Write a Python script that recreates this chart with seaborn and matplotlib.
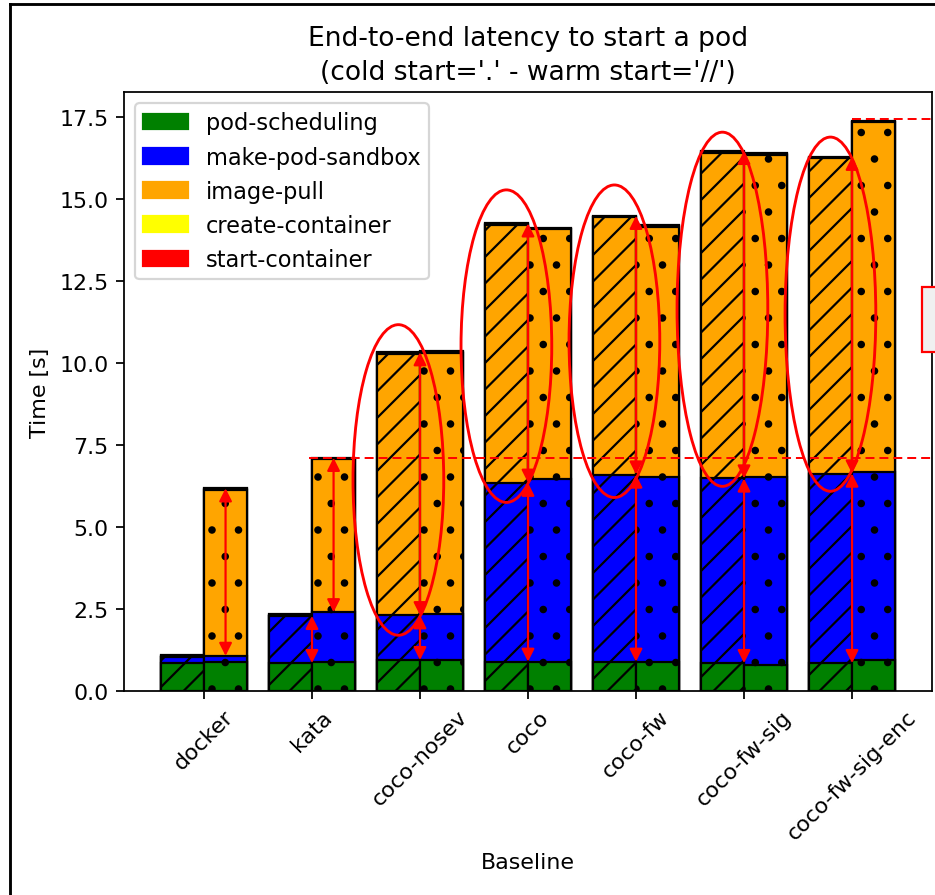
import numpy as np
import pandas as pd
import matplotlib.pyplot as plt
import seaborn as sns
from matplotlib.patches import Patch, Ellipse, Rectangle
from matplotlib.lines import Line2D

baselines = ["docker", "kata", "coco-nosev", "coco", "coco-fw", "coco-fw-sig", "coco-fw-sig-enc"]
steps = ["pod-scheduling", "make-pod-sandbox", "image-pull", "create-container", "start-container"]
step_colors = ["green", "blue", "orange", "yellow", "red"]

# warm start (hatched '//')
warm_pod_scheduling = [0.85, 0.85, 0.94, 0.89, 0.89, 0.85, 0.85]
warm_make_pod_sandbox = [0.20, 1.44, 1.37, 5.46, 5.71, 5.63, 5.78]
warm_image_pull = [0.0, 0.0, 7.97, 7.86, 7.84, 9.94, 9.61]
warm_create_container = [0.02, 0.02, 0.02, 0.02, 0.02, 0.02, 0.02]
warm_start_container = [0.03, 0.03, 0.03, 0.03, 0.03, 0.03, 0.03]

# cold start (dotted)
cold_pod_scheduling = [0.88, 0.89, 0.95, 0.89, 0.87, 0.79, 0.94]
cold_make_pod_sandbox = [0.19, 1.51, 1.39, 5.56, 5.66, 5.74, 5.75]
cold_image_pull = [5.06, 4.66, 7.97, 7.63, 7.62, 9.81, 10.65]
cold_create_container = [0.02, 0.02, 0.02, 0.02, 0.02, 0.02, 0.02]
cold_start_container = [0.03, 0.03, 0.03, 0.03, 0.03, 0.03, 0.03]

# hand-drawn ellipses around the warm image-pull part (bottom, top in seconds)
ellipse_spans = [(1.70, 11.17), (5.75, 15.28), (5.90, 15.43), (6.24, 17.04), (6.09, 16.89)]

warm = [warm_pod_scheduling, warm_make_pod_sandbox, warm_image_pull, warm_create_container, warm_start_container]
cold = [cold_pod_scheduling, cold_make_pod_sandbox, cold_image_pull, cold_create_container, cold_start_container]

# long table, cumulative per bar so the layers can be drawn on top of each other
rows = []
for start, series in [("warm", warm), ("cold", cold)]:
    for step, vals in zip(steps, series):
        for b, v in zip(baselines, vals):
            rows.append({"baseline": b, "start": start, "step": step, "value": v})
df = pd.DataFrame(rows)
df["cum"] = df.groupby(["baseline", "start"])["value"].cumsum()

fig, ax = plt.subplots(figsize=(936 / 159, 896 / 159), dpi=159)
fig.subplots_adjust(left=0.1325, right=0.9957, bottom=0.2277, top=0.896)

# tallest layer first, then cover it with the lower ones
for step, color in reversed(list(zip(steps, step_colors))):
    sub = df[df["step"] == step]
    sns.barplot(data=sub, x="baseline", y="cum", hue="start", order=baselines,
                hue_order=["warm", "cold"], palette=[color, color], saturation=1,
                edgecolor="black", linewidth=1, errorbar=None, legend=False, ax=ax)

for cont in ax.containers:
    for bar in cont:
        center = bar.get_x() + bar.get_width() / 2
        bar.set_hatch("//" if center < round(center) else ".")

totals = df[df["step"] == steps[-1]].set_index(["start", "baseline"])["cum"]

ax.set_title("End-to-end latency to start a pod\n(cold start='.' - warm start='//')", linespacing=1.4)
ax.set_xlabel("Baseline")
ax.set_ylabel("Time [s]")
plt.xticks(rotation=45)

handles = [Patch(color=c, label=s) for s, c in zip(steps, step_colors)]
ax.legend(handles=handles, loc="upper left", fontsize=10.2, labelspacing=0.5, borderpad=0.35)

# red annotations drawn over the chart
w_green = np.array(warm_pod_scheduling)
w_blue = w_green + np.array(warm_make_pod_sandbox)
w_top = totals["warm"].reindex(baselines).values
c_blue = np.array(cold_pod_scheduling) + np.array(cold_make_pod_sandbox)
c_top = totals["cold"].reindex(baselines).values

arrows = [(0.2, c_blue[0], c_top[0]), (1.0, w_green[1], w_blue[1]), (1.2, c_blue[1], c_top[1])]
for i in range(2, len(baselines)):
    arrows.append((i, w_green[i], w_blue[i]))
    arrows.append((i, w_blue[i], w_top[i]))
for x, y0, y1 in arrows:
    ax.annotate("", xy=(x, y1), xytext=(x, y0),
                arrowprops=dict(arrowstyle="<|-|>", color="red", lw=1.0,
                                mutation_scale=12, shrinkA=0, shrinkB=0))

for i, (lo, hi) in zip(range(2, len(baselines)), ellipse_spans):
    ax.add_patch(Ellipse((i - 0.2, (lo + hi) / 2), 0.84, hi - lo, fill=False,
                         edgecolor="red", lw=1.3, clip_on=False))

ax.plot([0.97, 6.8], [c_top[1], c_top[1]], color="red", ls=(0, (4.5, 2.5)), lw=0.9, clip_on=False)
ax.plot([6.0, 6.8], [c_top[6] + 0.06, c_top[6] + 0.06], color="red", ls=(0, (4.5, 2.5)), lw=0.9, clip_on=False)
ax.set_xlim(-0.74, len(baselines) - 0.26)
ax.set_ylim(0, totals.max() * 1.05)

fig.add_artist(Rectangle((921.7 / 936, 1 - 353 / 896), 0.05, 65 / 896, transform=fig.transFigure,
                         facecolor="#f0f0f0", edgecolor="red", lw=1))
# screenshot frame
fig.add_artist(Line2D([10 / 936, 10 / 936], [0, 1 - 5 / 896], color="black", lw=1.3, transform=fig.transFigure))
fig.add_artist(Line2D([10 / 936, 1], [1 - 5 / 896, 1 - 5 / 896], color="black", lw=1.3, transform=fig.transFigure))

fig.savefig("out.png", dpi=159)
